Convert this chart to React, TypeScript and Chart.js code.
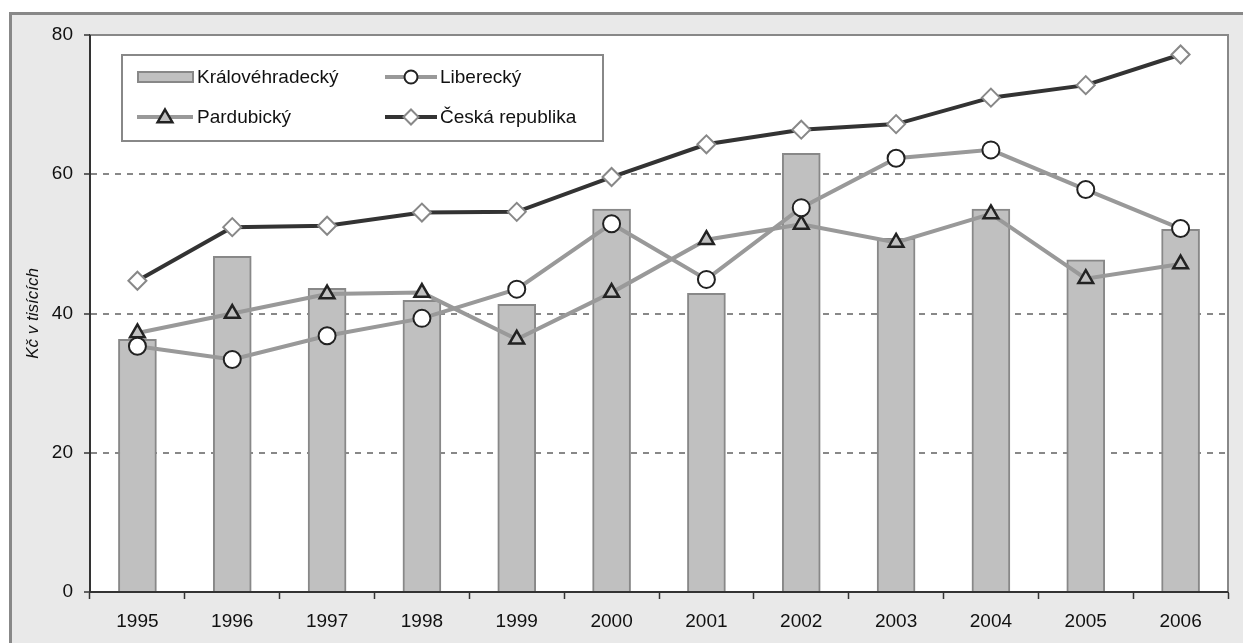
import React, { useEffect, useRef } from "react";
import { Chart, registerables } from "chart.js";

Chart.register(...registerables);

const years = ["1995", "1996", "1997", "1998", "1999", "2000", "2001", "2002", "2003", "2004", "2005", "2006"];
const kralovehradecky = [36.3, 48.2, 43.6, 41.9, 41.3, 55.0, 42.9, 63.0, 50.8, 55.0, 47.7, 52.1];
const liberecky = [35.3, 33.4, 36.8, 39.3, 43.5, 52.9, 44.9, 55.2, 62.3, 63.5, 57.8, 52.2];
const pardubicky = [37.2, 40.0, 42.8, 43.0, 36.3, 43.0, 50.6, 52.8, 50.2, 54.3, 45.0, 47.1];
const ceskaRepublika = [44.7, 52.4, 52.6, 54.5, 54.6, 59.6, 64.3, 66.4, 67.2, 71.0, 72.8, 77.2];
const yTicks = [0, 20, 40, 60, 80];
const yTitle = "Kč v tisících";
const legendNames = ["Královéhradecký", "Liberecký", "Pardubický", "Česká republika"];

const FONT = '"Liberation Sans", Arial, sans-serif';

function drawCircle(ctx: CanvasRenderingContext2D, x: number, y: number, r: number) {
  ctx.beginPath();
  ctx.arc(x, y, r, 0, Math.PI * 2);
  ctx.fillStyle = "#fff";
  ctx.fill();
  ctx.lineWidth = 2;
  ctx.strokeStyle = "#222";
  ctx.stroke();
}
function drawTriangle(ctx: CanvasRenderingContext2D, x: number, y: number, r: number) {
  ctx.beginPath();
  ctx.moveTo(x, y - r);
  ctx.lineTo(x + r * 0.866, y + r * 0.5);
  ctx.lineTo(x - r * 0.866, y + r * 0.5);
  ctx.closePath();
  ctx.fillStyle = "#c0c0c0";
  ctx.fill();
  ctx.lineWidth = 2.5;
  ctx.strokeStyle = "#222";
  ctx.stroke();
}
function drawDiamond(ctx: CanvasRenderingContext2D, x: number, y: number, r: number) {
  ctx.beginPath();
  ctx.moveTo(x - r, y);
  ctx.lineTo(x, y - r);
  ctx.lineTo(x + r, y);
  ctx.lineTo(x, y + r);
  ctx.closePath();
  ctx.fillStyle = "#fff";
  ctx.fill();
  ctx.lineWidth = 2;
  ctx.strokeStyle = "#888";
  ctx.stroke();
}

const framePlugin = {
  id: "frame",
  beforeDraw(chart: any) {
    const { ctx, width, height, chartArea } = chart;
    ctx.save();
    ctx.fillStyle = "#fff";
    ctx.fillRect(0, 0, width, height);
    ctx.fillStyle = "#e9e9e9";
    ctx.fillRect(10, 13, width, height);
    ctx.strokeStyle = "#888";
    ctx.lineWidth = 3;
    ctx.beginPath();
    ctx.moveTo(10.5, height + 5);
    ctx.lineTo(10.5, 13.5);
    ctx.lineTo(width + 5, 13.5);
    ctx.stroke();
    ctx.fillStyle = "#fff";
    ctx.fillRect(chartArea.left, chartArea.top, chartArea.right - chartArea.left, chartArea.bottom - chartArea.top);
    ctx.restore();
  },
  beforeDatasetsDraw(chart: any) {
    const { ctx, chartArea } = chart;
    ctx.save();
    ctx.strokeStyle = "#888";
    ctx.lineWidth = 2;
    ctx.setLineDash([]);
    ctx.beginPath();
    ctx.moveTo(chartArea.left, chartArea.top);
    ctx.lineTo(chartArea.right, chartArea.top);
    ctx.lineTo(chartArea.right, chartArea.bottom);
    ctx.stroke();
    ctx.strokeStyle = "#333";
    ctx.beginPath();
    ctx.moveTo(chartArea.left, chartArea.top);
    ctx.lineTo(chartArea.left, chartArea.bottom);
    ctx.lineTo(chartArea.right, chartArea.bottom);
    ctx.stroke();
    ctx.restore();
  },
  afterDraw(chart: any) {
    const { ctx } = chart;
    ctx.save();
    ctx.setLineDash([]);
    ctx.fillStyle = "#fff";
    ctx.fillRect(122, 55, 481, 86);
    ctx.strokeStyle = "#888";
    ctx.lineWidth = 2;
    ctx.strokeRect(122, 55, 481, 86);
    const r1 = 77;
    const r2 = 117;
    ctx.fillStyle = "#c0c0c0";
    ctx.fillRect(138, r1 - 5, 55, 10);
    ctx.strokeStyle = "#888";
    ctx.lineWidth = 2;
    ctx.strokeRect(138, r1 - 5, 55, 10);
    ctx.strokeStyle = "#999";
    ctx.lineWidth = 4;
    ctx.beginPath();
    ctx.moveTo(137, r2);
    ctx.lineTo(193, r2);
    ctx.stroke();
    drawTriangle(ctx, 165, r2 + 1, 8.5);
    ctx.strokeStyle = "#999";
    ctx.lineWidth = 4;
    ctx.beginPath();
    ctx.moveTo(385, r1);
    ctx.lineTo(437, r1);
    ctx.stroke();
    drawCircle(ctx, 411, r1, 6.5);
    ctx.strokeStyle = "#333";
    ctx.lineWidth = 4;
    ctx.beginPath();
    ctx.moveTo(385, r2);
    ctx.lineTo(437, r2);
    ctx.stroke();
    drawDiamond(ctx, 411, r2, 7.5);
    ctx.fillStyle = "#111";
    ctx.font = `19px ${FONT}`;
    ctx.textBaseline = "middle";
    ctx.textAlign = "left";
    ctx.fillText(legendNames[0], 197, r1 + 1);
    ctx.fillText(legendNames[1], 440, r1 + 1);
    ctx.fillText(legendNames[2], 197, r2 + 1);
    ctx.fillText(legendNames[3], 440, r2 + 1);
    ctx.restore();
  },
};

export default function App() {
  const ref = useRef<HTMLCanvasElement>(null);
  useEffect(() => {
    const chart = new Chart(ref.current as HTMLCanvasElement, {
      type: "bar",
      data: {
        labels: years,
        datasets: [
          {
            type: "line",
            label: legendNames[3],
            data: ceskaRepublika,
            borderColor: "#333",
            borderWidth: 4,
            pointStyle: "rectRot",
            pointRadius: 9,
            pointBorderColor: "#888",
            pointBackgroundColor: "#fff",
            pointBorderWidth: 2,
            tension: 0,
            order: 1,
          },
          {
            type: "line",
            label: legendNames[1],
            data: liberecky,
            borderColor: "#999",
            borderWidth: 4,
            pointStyle: "circle",
            pointRadius: 8.5,
            pointBorderColor: "#222",
            pointBackgroundColor: "#fff",
            pointBorderWidth: 2,
            tension: 0,
            order: 2,
          },
          {
            type: "line",
            label: legendNames[2],
            data: pardubicky,
            borderColor: "#999",
            borderWidth: 4,
            pointStyle: "triangle",
            pointRadius: 8.5,
            pointBorderColor: "#222",
            pointBackgroundColor: "#c0c0c0",
            pointBorderWidth: 2.5,
            tension: 0,
            order: 3,
          },
          {
            type: "bar",
            label: legendNames[0],
            data: kralovehradecky,
            backgroundColor: "#c0c0c0",
            borderColor: "#888",
            borderWidth: 2,
            barThickness: 38,
            order: 4,
          },
        ] as any,
      },
      options: {
        animation: false,
        responsive: false,
        devicePixelRatio: 1,
        layout: { padding: { top: 35, right: 15, left: 0, bottom: 0 } },
        plugins: { legend: { display: false }, tooltip: { enabled: false } },
        scales: {
          x: {
            offset: true,
            grid: { offset: true, drawOnChartArea: false, tickLength: 7, tickColor: "#333", tickWidth: 1.5 },
            border: { color: "#333", width: 2 },
            ticks: { color: "#111", font: { family: FONT, size: 19 }, padding: 11 },
            afterFit(scale: any) {
              scale.height = 51;
            },
          },
          y: {
            min: 0,
            max: 80,
            afterBuildTicks(scale: any) {
              scale.ticks = yTicks.map((v) => ({ value: v }));
            },
            grid: {
              color: (c: any) => (c.tick && (c.tick.value === 20 || c.tick.value === 40 || c.tick.value === 60) ? "#888" : "rgba(0,0,0,0)"),
              lineWidth: 2,
              tickLength: 6,
              tickColor: "#333",
              tickWidth: 1.5,
              tickBorderDash: [],
            } as any,
            border: { color: "#333", width: 2, dash: [6, 6] } as any,
            ticks: { color: "#111", font: { family: FONT, size: 19 }, padding: 11 },
            title: {
              display: true,
              text: yTitle,
              color: "#111",
              font: { family: FONT, size: 17, style: "italic" },
              padding: { top: 23, bottom: 0 },
            },
            afterFit(scale: any) {
              scale.width = 90;
            },
          },
        },
      },
      plugins: [framePlugin],
    });
    return () => chart.destroy();
  }, []);
  return (
    <div style={{ position: "fixed", left: 0, top: 0, width: 1243, height: 643 }}>
      <canvas ref={ref} width={1243} height={643} style={{ display: "block" }} />
    </div>
  );
}
